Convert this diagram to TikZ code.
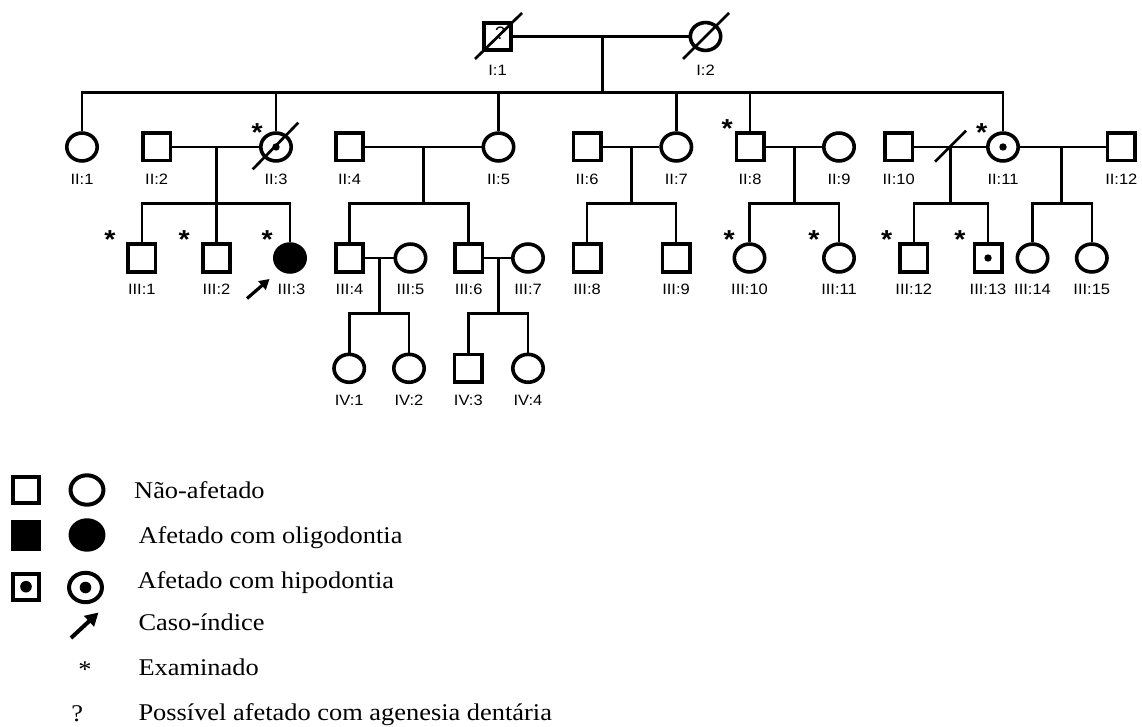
\documentclass[tikz,border=0pt]{standalone}
\usepackage{fontspec}
\setmainfont{Liberation Serif}
\newfontfamily\sansfam{Liberation Sans}
\usetikzlibrary{shapes.geometric,arrows.meta}

\tikzset{
  conn/.style={line width=2.6pt},
  person/.style={draw, inner sep=0pt, line width=3.6pt},
  male/.style={person, rectangle, minimum width=27.4pt, minimum height=27.4pt},
  female/.style={person, ellipse, minimum width=30.4pt, minimum height=27.9pt},
  affected/.style={fill=black},
  keybox/.style={draw, inner sep=0pt, line width=4pt},
  keymale/.style={keybox, rectangle, minimum width=26.4pt, minimum height=26.4pt},
  keyfemale/.style={keybox, ellipse, minimum width=32.9pt, minimum height=29.4pt},
  idlabel/.style={inner sep=0pt, font=\sansfam\fontsize{15}{16}\selectfont},
  examined/.style={inner sep=0pt, anchor=base, font=\sansfam\bfseries\fontsize{26}{26}\selectfont},
  keytext/.style={inner sep=0pt, anchor=base west, font=\fontsize{24}{28}\selectfont},
  keysym/.style={inner sep=0pt, anchor=base, font=\fontsize{24}{28}\selectfont},
  deceased/.style={line width=2.7pt},
  proband/.style={line width=3.2pt, -{Triangle[length=10pt,width=11pt]}},
  keyarrow/.style={line width=4pt, -{Triangle[length=13pt,width=14pt]}},
}

% individual's identifier below the symbol
\newcommand\idtag[3]{\node[idlabel] (#1) at (#2) {\scalebox{1.1}[1]{#3}};}
% examined mark, placed by its baseline
\newcommand\exmark[2]{\node[examined] (#1) at (#2) {\scalebox{1.1}[1]{*}};}
% legend line of text
\newcommand\keyline[3]{\node[keytext] (#1) at (#2) {\scalebox{1.1}[1]{#3}};}

\begin{document}
\begin{tikzpicture}[x=1pt, y=-1pt]
\useasboundingbox (0,0) rectangle (1142,727);

% ---------- generation I ----------
\node[male]   (I1) at (497.5,36.5) {};
\node[female] (I2) at (705.5,36.5) {};
\node[inner sep=0pt, font=\sansfam\fontsize{18}{18}\selectfont] (q1) at (500,33.5) {?};
\coordinate (dI1a) at (475,59);   \coordinate (dI1b) at (522,13);
\coordinate (dI2a) at (683,59);   \coordinate (dI2b) at (729,13);
\draw[deceased] (dI1a) -- (dI1b);
\draw[deceased] (dI2a) -- (dI2b);
\idtag{lI1}{497.5,70}{I:1}
\idtag{lI2}{705.5,70}{I:2}

\coordinate (mI) at (602.5,36.5);
\coordinate (sI) at (602.5,92.5);
\draw[conn] (I1.east) -- (I2.west);
\draw[conn, line width=3pt] (mI) -- (sI);

% ---------- generation II ----------
\node[female] (II1)  at (82,147) {};
\node[male]   (II2)  at (156.7,147) {};
\node[female] (II3)  at (276,147) {};
\node[male]   (II4)  at (349.5,147) {};
\node[female] (II5)  at (498.5,147) {};
\node[male]   (II6)  at (587,147) {};
\node[female] (II7)  at (676.3,147) {};
\node[male]   (II8)  at (750,147) {};
\node[female] (II9)  at (839,147) {};
\node[male]   (II10) at (898.7,147) {};
\node[female] (II11) at (1003,147) {};
\node[male]   (II12) at (1121.3,147) {};
\fill (II3.center) circle (3.7pt);
\fill (II11.center) circle (3.7pt);
\coordinate (dII3a) at (252.7,169.3); \coordinate (dII3b) at (298.3,122.7);
\draw[deceased] (dII3a) -- (dII3b);

\draw[conn] (II1.north) |- (sI) -| (II11.north);
\foreach \k in {II3,II5,II7,II8}
  \draw[conn] (\k.north) -- (\k.north |- sI);

\idtag{lII1}{82,179}{II:1}
\idtag{lII2}{156.7,179}{II:2}
\idtag{lII3}{276,179}{II:3}
\idtag{lII4}{349.5,179}{II:4}
\idtag{lII5}{498.5,179}{II:5}
\idtag{lII6}{587,179}{II:6}
\idtag{lII7}{676.3,179}{II:7}
\idtag{lII8}{750,179}{II:8}
\idtag{lII9}{839,179}{II:9}
\idtag{lII10}{898.7,179}{II:10}
\idtag{lII11}{1003,179}{II:11}
\idtag{lII12}{1121.3,179}{II:12}

\exmark{eII3}{257.3,141.6}
\exmark{eII8}{727.3,137.6}
\exmark{eII11}{981.7,141.6}

% couples of generation II and their sibship lines
\coordinate (c23)   at (216.5,147);  \coordinate (s23)   at (216.5,203.3);
\coordinate (c45)   at (423.7,147);  \coordinate (s45)   at (423.7,203.3);
\coordinate (c67)   at (631.7,147);  \coordinate (s67)   at (631.7,203.3);
\coordinate (c89)   at (794.3,147);  \coordinate (s89)   at (794.3,203.3);
\coordinate (c1011) at (950,147);    \coordinate (s1011) at (950,203.3);
\coordinate (c1112) at (1061.7,147); \coordinate (s1112) at (1061.7,203.3);

\draw[conn] (II2.east) -- (II3.west);
\draw[conn] (II4.east) -- (II5.west);
\draw[conn] (II6.east) -- (II7.west);
\draw[conn] (II8.east) -- (II9.west);
\draw[conn] (II10.east) -- (II11.west);
\draw[conn] (II11.east) -- (II12.west);
\foreach \a/\b in {c23/s23,c45/s45,c67/s67,c89/s89,c1011/s1011,c1112/s1112}
  \draw[conn, line width=3pt] (\a) -- (\b);
% separation mark on the II:10 -- II:11 union
\coordinate (dv1) at (935,161.7); \coordinate (dv2) at (966,130.7);
\draw[deceased] (dv1) -- (dv2);

% ---------- generation III ----------
\node[male]             (III1)  at (141.8,258) {};
\node[male]             (III2)  at (216.5,258) {};
\node[female, affected] (III3)  at (290,258) {};
\node[male]             (III4)  at (349.5,258) {};
\node[female]           (III5)  at (410.5,258) {};
\node[male]             (III6)  at (468.7,258) {};
\node[female]           (III7)  at (528,258) {};
\node[male]             (III8)  at (587,258) {};
\node[male]             (III9)  at (676,258) {};
\node[female]           (III10) at (749.5,258) {};
\node[female]           (III11) at (839,258) {};
\node[male]             (III12) at (913.8,258) {};
\node[male]             (III13) at (988,258) {};
\node[female]           (III14) at (1032.5,258) {};
\node[female]           (III15) at (1091.8,258) {};
\fill (III13.center) circle (3.7pt);

\draw[conn] (III1.north) |- (s23) -| (III3.north);
\draw[conn] (III2.north) -- (s23);
\draw[conn] (III4.north) |- (s45) -| (III6.north);
\draw[conn] (III8.north) |- (s67) -| (III9.north);
\draw[conn] (III10.north) |- (s89) -| (III11.north);
\draw[conn] (III12.north) |- (s1011) -| (III13.north);
\draw[conn] (III14.north) |- (s1112) -| (III15.north);

\idtag{lIII1}{141.8,289.5}{III:1}
\idtag{lIII2}{216.5,289.5}{III:2}
\idtag{lIII3}{291.5,289.5}{III:3}
\idtag{lIII4}{349.5,289.5}{III:4}
\idtag{lIII5}{410.5,289.5}{III:5}
\idtag{lIII6}{468.7,289.5}{III:6}
\idtag{lIII7}{528,289.5}{III:7}
\idtag{lIII8}{587,289.5}{III:8}
\idtag{lIII9}{676,289.5}{III:9}
\idtag{lIII10}{749.5,289.5}{III:10}
\idtag{lIII11}{839,289.5}{III:11}
\idtag{lIII12}{913.8,289.5}{III:12}
\idtag{lIII13}{988,289.5}{III:13}
\idtag{lIII14}{1032.5,289.5}{III:14}
\idtag{lIII15}{1091.8,289.5}{III:15}

\exmark{eIII1}{110,248.2}
\exmark{eIII2}{184.3,248.2}
\exmark{eIII3}{267.3,248.2}
\exmark{eIII10}{729.3,248.2}
\exmark{eIII11}{814,248.2}
\exmark{eIII12}{886.7,248.2}
\exmark{eIII13}{960,248.2}

% index case
\coordinate (pa) at (247,298.5); \coordinate (pb) at (269.5,279);
\draw[proband] (pa) -- (pb);

% couples of generation III
\coordinate (c345) at (379.5,258); \coordinate (s345) at (379.5,313.3);
\coordinate (c367) at (498.3,258); \coordinate (s367) at (498.3,313.3);
\draw[conn] (III4.east) -- (III5.west);
\draw[conn] (III6.east) -- (III7.west);
\draw[conn, line width=3pt] (c345) -- (s345);
\draw[conn, line width=3pt] (c367) -- (s367);

% ---------- generation IV ----------
\node[female] (IV1) at (349.2,368.3) {};
\node[female] (IV2) at (409,368.3) {};
\node[male]   (IV3) at (468.3,368.3) {};
\node[female] (IV4) at (528,368.3) {};
\draw[conn] (IV1.north) |- (s345) -| (IV2.north);
\draw[conn] (IV3.north) |- (s367) -| (IV4.north);
\idtag{lIV1}{349.2,400.5}{IV:1}
\idtag{lIV2}{409,400.5}{IV:2}
\idtag{lIV3}{468.3,400.5}{IV:3}
\idtag{lIV4}{528,400.5}{IV:4}

% ---------- legend ----------
\node[keymale]             (k1) at (26,490) {};
\node[keyfemale]           (k2) at (87,490) {};
\node[keymale, affected]   (k3) at (26,535.3) {};
\node[keyfemale, affected] (k4) at (87,535) {};
\node[keymale]             (k5) at (26,586.7) {};
\node[keyfemale]           (k6) at (85.5,587.5) {};
\fill (k5.center) circle (5.8pt);
\fill (k6.center) circle (5.8pt);
\coordinate (ka) at (71,638); \coordinate (kb) at (98.5,612.5);
\draw[keyarrow] (ka) -- (kb);
\node[keysym] (k7) at (85,677) {\scalebox{1.1}[1]{*}};
\node[keysym] (k8) at (77.3,721) {\scalebox{1.1}[1]{?}};

\keyline{t1}{134,498.3}{Não-afetado}
\keyline{t2}{138.3,543.3}{Afetado com oligodontia}
\keyline{t3}{137.3,588.3}{Afetado com hipodontia}
\keyline{t4}{138.3,630}{Caso-índice}
\keyline{t5}{138.3,675}{Examinado}
\keyline{t6}{138.3,720}{Possível afetado com agenesia dentária}
\end{tikzpicture}
\end{document}
